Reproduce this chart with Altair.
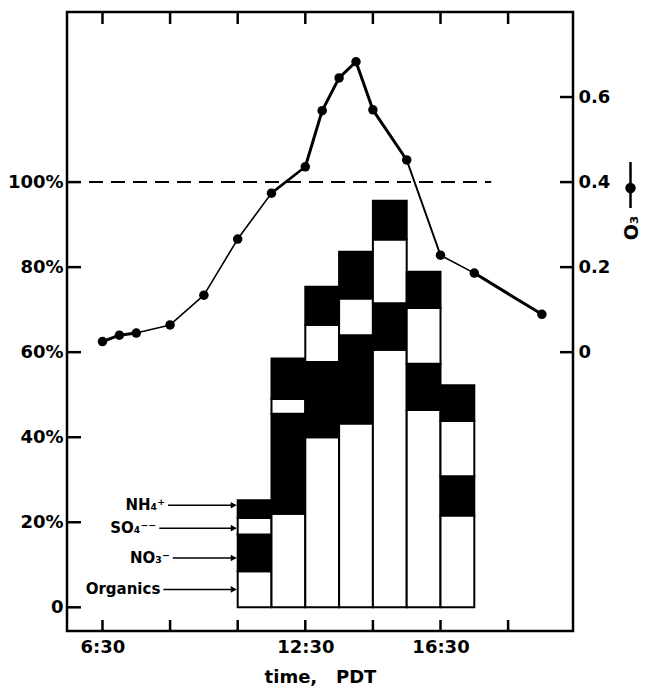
import altair as alt
import pandas as pd

# ---------------- data ----------------
bar_start = [10.5, 11.5, 12.5, 13.5, 14.5, 15.5, 16.5]   # hours PDT
bar_end = [11.5, 12.5, 13.5, 14.5, 15.5, 16.5, 17.5]
organics = [8.5, 22.0, 40.0, 43.2, 60.6, 46.4, 21.6]     # % of total
nitrate = [8.6, 23.5, 17.7, 20.8, 10.9, 10.9, 9.2]
sulfate = [3.9, 3.5, 8.7, 8.6, 15.0, 13.1, 13.0]
ammonium = [4.2, 9.5, 9.0, 11.0, 9.1, 8.5, 8.4]

o3_time = [6.5, 7.0, 7.5, 8.5, 9.5, 10.5, 11.5, 12.5, 13.0, 13.5, 14.0,
           14.5, 15.5, 16.5, 17.5, 19.5]
o3_ppm = [0.025, 0.040, 0.045, 0.064, 0.134, 0.266, 0.374, 0.436, 0.568,
          0.645, 0.683, 0.570, 0.452, 0.228, 0.186, 0.089]

pct_ticks = [0, 20, 40, 60, 80, 100]
o3_ticks = [0, 0.2, 0.4, 0.6]
time_ticks = [6.5, 8.5, 10.5, 12.5, 14.5, 16.5, 18.5]

species = ["Organics", "NO3", "SO4", "NH4"]
species_fill = ["white", "black", "white", "black"]
species_text = ["Organics", "NO\u2083\u207b", "SO\u2084\u207b\u207b", "NH\u2084\u207a"]
label_pct = [4.2, 11.6, 18.6, 24.0]        # arrow heights
label_end = [8.30, 8.58, 8.18, 8.44]       # where arrows start (hours)

reference_pct = 100
reference_end = 18.0

# line weight of each segment of the O3 trace (as drawn in the original)
seg_width = [3, 3, 1.6, 1.6, 1.6, 1.6, 2.6, 3, 3, 3, 3, 3, 2, 1.6, 3]

# ---------------- tables ----------------
rows = []
for i in range(len(bar_start)):
    base = 0.0
    for sp, amt in zip(species, [organics[i], nitrate[i], sulfate[i], ammonium[i]]):
        rows.append({"x0": bar_start[i], "x1": bar_end[i], "y0": base,
                     "y1": base + amt, "species": sp})
        base += amt
bars_df = pd.DataFrame(rows)
o3_df = pd.DataFrame({"t": o3_time, "o3": o3_ppm})
seg_rows = []
for i in range(len(o3_time) - 1):
    for j in (i, i + 1):
        seg_rows.append({"seg": i, "t": o3_time[j], "o3": o3_ppm[j], "w": seg_width[i]})
seg_df = pd.DataFrame(seg_rows)
pct_df = pd.DataFrame({"v": pct_ticks})
o3t_df = pd.DataFrame({"v": o3_ticks})
tt_df = pd.DataFrame({"t": time_ticks})
lab_df = pd.DataFrame({"txt": species_text, "y": label_pct, "xs": label_end,
                       "xe": [bar_start[0] - 0.06] * 4,
                       "xa": [bar_start[0] - 0.12] * 4})
ref_df = pd.DataFrame({"x0": [5.45], "x1": [reference_end], "y": [reference_pct]})
one = pd.DataFrame({"a": [0]})

W, H = 506, 619
FONT = "DejaVu Sans"
xs = alt.Scale(domain=[5.45, 20.42], nice=False, zero=False)
ys = alt.Scale(domain=[-5.57, 140], nice=False, zero=False)
os_ = alt.Scale(domain=[-0.6557, 0.80], nice=False, zero=False)

label_expr = ("datum.value == 6.5 ? '6:30' : datum.value == 12.5 ? '12:30' : "
              "datum.value == 16.5 ? '16:30' : ''")

XA = alt.Axis(values=time_ticks, labelExpr=label_expr, tickSize=0, domain=False,
              grid=False, labelPadding=7, labelFont=FONT, labelFontSize=18,
              labelFontWeight="bold", labelColor="black",
              title="time,\u00a0\u00a0 PDT",
              titleFont=FONT, titleFontSize=18, titleFontWeight="bold",
              titleColor="black", titlePadding=12)
YA = alt.Axis(values=pct_ticks, labelExpr="datum.value == 0 ? '0' : datum.value + '%'",
              tickSize=0, domain=False, grid=False, labelPadding=4, labelFont=FONT,
              labelFontSize=18, labelFontWeight="bold", labelColor="black", title=None)
OA = alt.Axis(orient="right", values=o3_ticks,
              labelExpr="datum.value == 0 ? '0' : format(datum.value, '.1f')",
              tickSize=0, domain=False, grid=False, labelPadding=5, labelFont=FONT,
              labelFontSize=18, labelFontWeight="bold", labelColor="black", title=None)


def X(f):
    return alt.X(f, scale=xs, axis=XA)


def Y(f):
    return alt.Y(f, scale=ys, axis=YA)


def O(f):
    return alt.Y(f, scale=os_, axis=OA)


bars = alt.Chart(bars_df).mark_rect(stroke="black", strokeWidth=2).encode(
    x=X("x0:Q"), x2="x1:Q", y=Y("y0:Q"), y2="y1:Q",
    fill=alt.Fill("species:N", scale=alt.Scale(domain=species, range=species_fill),
                  legend=None),
)

ref = alt.Chart(ref_df).mark_rule(color="black", strokeWidth=2, strokeDash=[14, 8]).encode(
    x=X("x0:Q"), x2="x1:Q", y=Y("y:Q"))

lticks = alt.Chart(pct_df).mark_rule(color="black", strokeWidth=2.5).encode(
    y=Y("v:Q"), x=alt.value(0), x2=alt.value(14))
bticks = alt.Chart(tt_df).mark_rule(color="black", strokeWidth=2.5).encode(
    x=X("t:Q"), y=alt.value(H), y2=alt.value(H - 11))
tticks = alt.Chart(tt_df).mark_rule(color="black", strokeWidth=2.5).encode(
    x=X("t:Q"), y=alt.value(0), y2=alt.value(12))

arrows = alt.Chart(lab_df).mark_rule(color="black", strokeWidth=1.6).encode(
    x=X("xs:Q"), x2="xe:Q", y=Y("y:Q"))
heads = alt.Chart(lab_df).mark_point(shape="triangle-right", filled=True,
                                     color="black", size=45, opacity=1).encode(
    x=X("xa:Q"), y=Y("y:Q"))
texts = alt.Chart(lab_df).mark_text(align="right", baseline="middle", dx=-3,
                                    font=FONT, fontSize=15, fontWeight="bold",
                                    color="black").encode(
    x=X("xs:Q"), y=Y("y:Q"), text="txt:N")

left_group = alt.layer(bars, ref, lticks, bticks, tticks, arrows, heads, texts)

o3_line = alt.Chart(seg_df).mark_line(color="black", strokeCap="round").encode(
    x=X("t:Q"), y=O("o3:Q"), detail="seg:N",
    strokeWidth=alt.StrokeWidth("w:Q", scale=None, legend=None))
o3_pts = alt.Chart(o3_df).mark_circle(color="black", size=90, opacity=1).encode(
    x=X("t:Q"), y=O("o3:Q"))
rticks = alt.Chart(o3t_df).mark_rule(color="black", strokeWidth=2.5).encode(
    y=O("v:Q"), x=alt.value(W), x2=alt.value(W - 13))

sym_line = alt.Chart(one).mark_rule(color="black", strokeWidth=2.5).encode(
    x=alt.value(563.5), y=alt.value(150), y2=alt.value(196))
sym_dot = alt.Chart(one).mark_circle(color="black", size=110, opacity=1).encode(
    x=alt.value(563.5), y=alt.value(176))
sym_txt = alt.Chart(one).mark_text(text="O\u2083", angle=270, align="center",
                                   baseline="middle", font=FONT, fontSize=19,
                                   fontWeight="bold", color="black").encode(
    x=alt.value(565), y=alt.value(216))

right_group = alt.layer(o3_line, o3_pts, rticks, sym_line, sym_dot, sym_txt)

chart = alt.layer(left_group, right_group).resolve_scale(y="independent").properties(
    width=W, height=H,
    autosize=alt.AutoSizeParams(type="none"),
    padding={"left": 67, "top": 12, "right": 73, "bottom": 60},
    background="white",
).configure_view(stroke="black", strokeWidth=2.5)

chart.save("out.html", embed_options={"renderer": "svg", "actions": False})
